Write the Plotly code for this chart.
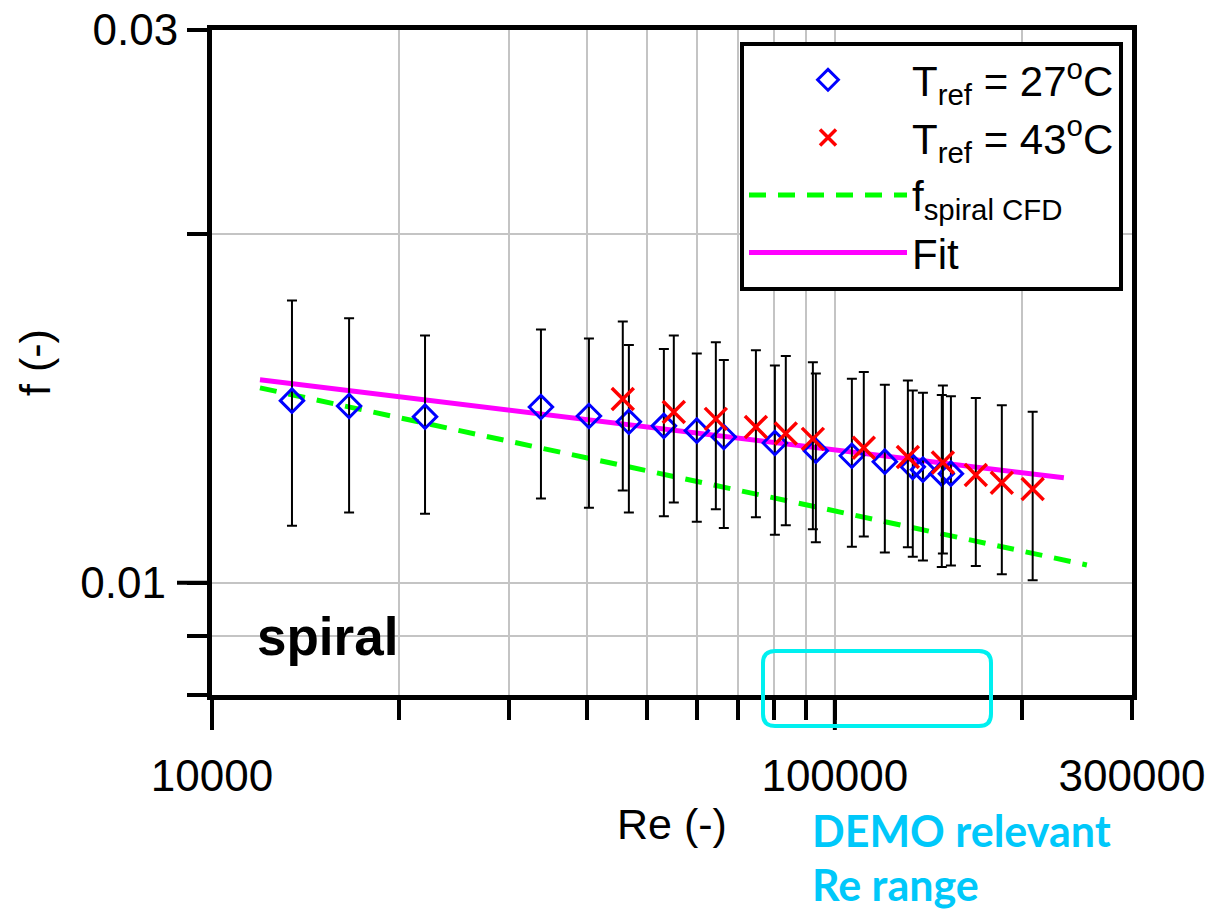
import math
import plotly.graph_objects as go

# ---------------- data ----------------
re_27 = [13440, 16600, 21980, 33740, 40290, 46700, 53150, 60030, 66340, 80120,
         93220, 106500, 120300, 133400, 138500, 148500, 153600]
f_27 = [0.01436, 0.01421, 0.01391, 0.01418, 0.01393, 0.01377, 0.01366, 0.01353,
        0.01336, 0.01320, 0.01300, 0.01287, 0.01272, 0.01259, 0.01252, 0.01242, 0.01242]
err_27 = [0.00316, 0.00271, 0.00244, 0.00236, 0.00232, 0.00227, 0.00225, 0.00224,
          0.00221, 0.00220, 0.00216, 0.00213, 0.00210, 0.00206, 0.00207, 0.00210, 0.00207]

re_43 = [45660, 55140, 64410, 74690, 83420, 92200, 111300, 131000, 149100,
         168400, 185400, 207800]
f_43 = [0.01441, 0.01404, 0.01385, 0.01363, 0.01345, 0.01331, 0.01308, 0.01284,
        0.01270, 0.01239, 0.01220, 0.01205]
err_43 = [0.00240, 0.00231, 0.00228, 0.00224, 0.00224, 0.00219, 0.00212, 0.00211,
          0.00210, 0.00205, 0.00203, 0.00200]

re_cfd = [11940, 33740, 253900]
f_cfd = [0.01473, 0.01308, 0.01036]

re_fit = [11940, 33740, 233200]
f_fit = [0.01497, 0.01399, 0.01232]

x_tickvals = [10000, 100000, 300000]
x_ticktext = ["10000", "100000", "300000"]
x_minorvals = [20000, 30000, 40000, 50000, 60000, 70000, 80000, 90000, 200000]
y_tickvals = [0.01, 0.03]
y_ticktext = ["0.01\u00a0", "0.03"]
y_minorvals = [0.008, 0.009, 0.02]

X_MIN, X_MAX = 10000, 300000
Y_MIN, Y_MAX = 0.008, 0.03

# ---------------- layout geometry ----------------
W, H = 1219, 909
L, R, T, B = 212, 87, 30, 214
PW, PH = W - L - R, H - T - B
FONT = "Liberation Sans"


def xp(px):
    return (px - L) / PW


def yp(py):
    return (H - B - py) / PH


def xfrac(v):
    return (math.log10(v) - math.log10(X_MIN)) / (math.log10(X_MAX) - math.log10(X_MIN))


def yfrac(v):
    return (math.log10(v) - math.log10(Y_MIN)) / (math.log10(Y_MAX) - math.log10(Y_MIN))


fig = go.Figure()

fig.add_trace(go.Scatter(
    x=re_cfd, y=f_cfd, mode="lines", name="f<sub>spiral CFD</sub>",
    line=dict(color="#00FF00", width=5, dash="17px,12px"), legendrank=3))
fig.add_trace(go.Scatter(
    x=re_fit, y=f_fit, mode="lines", name="Fit",
    line=dict(color="#FF00FF", width=5), legendrank=4))
fig.add_trace(go.Scatter(
    x=re_27, y=f_27, mode="markers", name="T<sub>ref</sub> = 27<sup>o</sup>C",
    marker=dict(symbol="diamond-open", size=18, color="#0000FF", line=dict(width=3)),
    error_y=dict(type="data", array=err_27, visible=True, color="black",
                 thickness=2, width=5),
    legendrank=1))
fig.add_trace(go.Scatter(
    x=re_43, y=f_43, mode="markers", name="T<sub>ref</sub> = 43<sup>o</sup>C",
    marker=dict(symbol="x-thin-open", size=22, color="#FF0000", line=dict(width=3.5)),
    error_y=dict(type="data", array=err_43, visible=True, color="black",
                 thickness=2, width=5),
    legendrank=2))

shapes = []
# long ticks (labelled decades)
for v in (10000, 100000):
    shapes.append(dict(type="line", xref="paper", yref="paper",
                       x0=xfrac(v), x1=xfrac(v), y0=0, y1=-35 / PH,
                       line=dict(color="black", width=4)))
shapes.append(dict(type="line", xref="paper", yref="paper",
                   x0=-35 / PW, x1=0, y0=yfrac(0.01), y1=yfrac(0.01),
                   line=dict(color="black", width=4)))

# rounded cyan box (DEMO relevant Re range)
bx0, bx1, by0, by1 = xp(763), xp(991), yp(726), yp(651)
rx, ry = 12 / PW, 12 / PH
path = (f"M{bx0 + rx},{by0} L{bx1 - rx},{by0} Q{bx1},{by0} {bx1},{by0 + ry} "
        f"L{bx1},{by1 - ry} Q{bx1},{by1} {bx1 - rx},{by1} "
        f"L{bx0 + rx},{by1} Q{bx0},{by1} {bx0},{by1 - ry} "
        f"L{bx0},{by0 + ry} Q{bx0},{by0} {bx0 + rx},{by0} Z")
shapes.append(dict(type="path", xref="paper", yref="paper", path=path,
                   line=dict(color="#00F0F0", width=4)))

annotations = [
    dict(text="<b>spiral</b>", xref="paper", yref="paper", x=xp(255), y=yp(636),
         xanchor="left", yanchor="middle", showarrow=False,
         font=dict(family=FONT, size=53, color="black")),
    dict(text="<b>DEMO relevant</b>", xref="paper", yref="paper", x=xp(810), y=yp(830),
         xanchor="left", yanchor="middle", showarrow=False,
         font=dict(family="Lato", size=43, color="#00C8FA")),
    dict(text="<b>Re range</b>", xref="paper", yref="paper", x=xp(810), y=yp(885),
         xanchor="left", yanchor="middle", showarrow=False,
         font=dict(family="Lato", size=43, color="#00C8FA")),
]

GRID = "#C4C4C4"
axis_common = dict(
    type="log", showline=True, linecolor="black", linewidth=5, mirror=True,
    ticks="outside", ticklen=20, tickwidth=4, tickcolor="black",
    showgrid=True, gridcolor=GRID, gridwidth=2, zeroline=False,
    tickmode="array", tickfont=dict(family=FONT, size=44, color="black"),
    automargin=False,
)

fig.update_layout(
    width=W, height=H, margin=dict(l=L, r=R, t=T, b=B, pad=0, autoexpand=False),
    paper_bgcolor="white", plot_bgcolor="white",
    font=dict(family=FONT, color="black"),
    xaxis=dict(**axis_common, range=[math.log10(X_MIN), math.log10(X_MAX)],
               tickvals=x_tickvals, ticktext=x_ticktext, ticklabelstandoff=18,
               minor=dict(tickmode="array", tickvals=x_minorvals, ticks="outside",
                          ticklen=20, tickwidth=4, tickcolor="black",
                          showgrid=True, gridcolor=GRID, gridwidth=2),
               title=dict(text="Re (-)", font=dict(family=FONT, size=43), standoff=12)),
    yaxis=dict(**axis_common, range=[math.log10(Y_MIN), math.log10(Y_MAX)],
               tickvals=y_tickvals, ticktext=y_ticktext,
               minor=dict(tickmode="array", tickvals=y_minorvals, ticks="outside",
                          ticklen=20, tickwidth=4, tickcolor="black",
                          showgrid=True, gridcolor=GRID, gridwidth=2),
               title=dict(text="f (-)", font=dict(family=FONT, size=43), standoff=18)),
    legend=dict(x=xp(740), y=yp(42), xanchor="left", yanchor="top",
                bgcolor="white", bordercolor="black", borderwidth=4,
                font=dict(family=FONT, size=42, color="black"),
                itemwidth=158, tracegroupgap=0),
    shapes=shapes, annotations=annotations, showlegend=True,
)

fig.write_html("out.html")
